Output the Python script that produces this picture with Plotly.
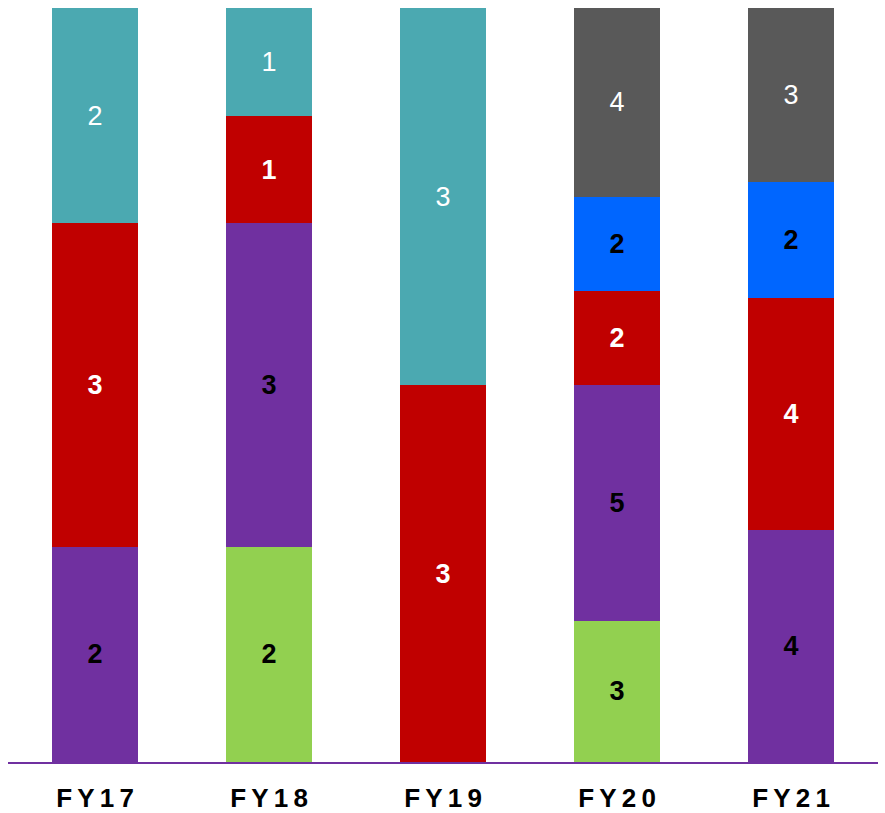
import plotly.graph_objects as go

categories = ["FY17", "FY18", "FY19", "FY20", "FY21"]
tick_labels = ["F\u2009Y\u20091\u20097", "F\u2009Y\u20091\u20098", "F\u2009Y\u20091\u20099",
               "F\u2009Y\u20092\u20090", "F\u2009Y\u20092\u20091"]

green = [None, 2, None, 3, None]
purple = [2, 3, None, 5, 4]
red = [3, 1, 3, 2, 4]
blue = [None, None, None, 2, 2]
teal = [2, 1, 3, None, None]
gray = [None, None, None, 4, 3]

series = [
    ("Green", green, "#92D050", "black", True),
    ("Purple", purple, "#7030A0", "black", True),
    ("Red", red, "#C00000", "white", True),
    ("Blue", blue, "#0066FF", "black", True),
    ("Teal", teal, "#4BA9B1", "white", False),
    ("Gray", gray, "#595959", "white", False),
]

fig = go.Figure()
for name, vals, color, tcolor, bold in series:
    txt = [("<b>%d</b>" % v if bold else "%d" % v) if v is not None else None for v in vals]
    fig.add_trace(go.Bar(
        name=name, x=categories, y=vals, marker=dict(color=color, line=dict(width=0)),
        text=txt, texttemplate="%{text}", textposition="inside", insidetextanchor="middle",
        textangle=0,
        textfont=dict(color=tcolor, size=27, family="Liberation Sans, Arial, sans-serif"),
        hoverinfo="skip",
    ))

fig.update_layout(
    barmode="stack", barnorm="percent", bargap=0.506,
    width=885, height=813, margin=dict(l=8, r=7, t=8, b=51),
    paper_bgcolor="white", plot_bgcolor="white", showlegend=False,
    uniformtext=dict(mode=False),
    xaxis=dict(tickmode="array", tickvals=categories, ticktext=tick_labels,
               showline=True, linecolor="#7030A0", linewidth=1.5, ticks="",
               ticklabelstandoff=12, automargin=False,
               tickfont=dict(family="Liberation Sans, Arial, sans-serif", size=26, color="black", weight="bold")),
    yaxis=dict(range=[0, 100], visible=False, showgrid=False, zeroline=False),
)
fig.write_html("out.html")
